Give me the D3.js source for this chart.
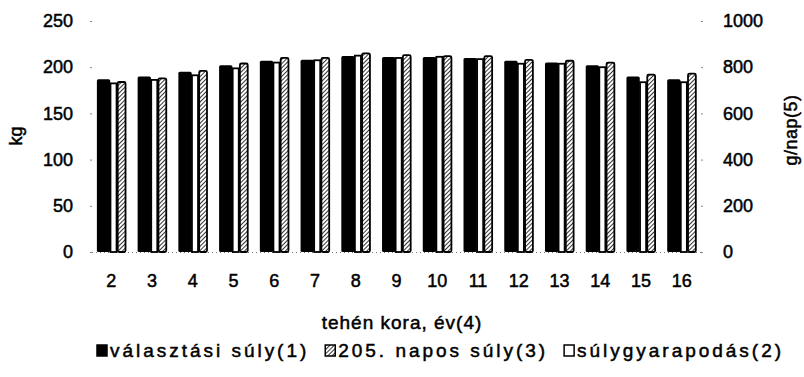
<!DOCTYPE html>
<html>
<head>
<meta charset="utf-8">
<script src="https://cdn.jsdelivr.net/npm/d3@7"></script>
<style>
  body { margin: 0; background: #fff; }
  svg text { font-family: "Liberation Sans", Arial, sans-serif; fill: #000; stroke: #000; stroke-width: 0.5px; }
</style>
</head>
<body>
<svg id="chart" width="804" height="377"></svg>
<script>
// tehén kora (év)
const ages = ["2", "3", "4", "5", "6", "7", "8", "9", "10", "11", "12", "13", "14", "15", "16"];
// választási súly, kg (left axis)
const weaningWeight = [187, 190, 195, 202, 207, 208, 212, 211, 211, 210, 207, 205, 202, 190, 187];
// 205. napos súly, kg (left axis)
const weight205 = [184, 188, 196, 204, 210, 210, 215, 213, 212, 212, 208, 207, 205, 192, 193];
// súlygyarapodás, g/nap (right axis)
const dailyGain = [730, 745, 765, 795, 820, 830, 850, 840, 845, 835, 815, 815, 800, 735, 735];

const leftTicks = [0, 50, 100, 150, 200, 250];
const rightTicks = [0, 200, 400, 600, 800, 1000];

const svg = d3.select("#chart");
const plot = { left: 92, right: 701, top: 21, bottom: 252 };
const fontSize = 18;
const titleSize = 19;

const defs = svg.append("defs");
const pat = defs.append("pattern")
  .attr("id", "hatch")
  .attr("patternUnits", "userSpaceOnUse")
  .attr("width", 3)
  .attr("height", 3)
  .attr("patternTransform", "rotate(45)");
pat.append("rect").attr("width", 3).attr("height", 3).attr("fill", "#fff");
pat.append("line")
  .attr("x1", 0).attr("y1", 0).attr("x2", 0).attr("y2", 3)
  .attr("stroke", "#000").attr("stroke-width", 1.6);

const x = d3.scaleBand()
  .domain(ages)
  .range([plot.left, plot.right])
  .paddingInner(0.29)
  .paddingOuter(0.12);

const yLeft = d3.scaleLinear().domain([0, 250]).range([plot.bottom, plot.top]);
const yRight = d3.scaleLinear().domain([0, 1000]).range([plot.bottom, plot.top]);

// sub-positions inside a group: black, white, hatched
const sub = d3.scaleLinear().domain([0, 1]).range([0, x.bandwidth()]);

// dotted baseline
svg.append("line")
  .attr("x1", plot.left).attr("x2", plot.right)
  .attr("y1", plot.bottom + 0.5).attr("y2", plot.bottom + 0.5)
  .attr("stroke", "#777").attr("stroke-width", 1)
  .attr("stroke-dasharray", "1,3");

const groups = svg.append("g").selectAll("g")
  .data(ages)
  .enter()
  .append("g")
  .attr("transform", (d) => `translate(${x(d)},0)`);

groups.append("rect")
  .attr("x", sub(0))
  .attr("width", sub(0.46) - sub(0))
  .attr("y", (d, i) => yLeft(weaningWeight[i]))
  .attr("height", (d, i) => plot.bottom - yLeft(weaningWeight[i]))
  .attr("rx", 1.5)
  .attr("fill", "#000");

groups.append("rect")
  .attr("x", sub(0.47))
  .attr("width", sub(0.68) - sub(0.47))
  .attr("y", (d, i) => yRight(dailyGain[i]))
  .attr("height", (d, i) => plot.bottom - yRight(dailyGain[i]))
  .attr("fill", "#fff")
  .attr("stroke", "#000")
  .attr("stroke-width", 1.8);

groups.append("rect")
  .attr("x", sub(0.72))
  .attr("width", sub(0.99) - sub(0.72))
  .attr("y", (d, i) => yLeft(weight205[i]))
  .attr("height", (d, i) => plot.bottom - yLeft(weight205[i]))
  .attr("rx", 1.5)
  .attr("fill", "url(#hatch)")
  .attr("stroke", "#000")
  .attr("stroke-width", 1.8);

function styleText(sel) {
  sel.selectAll("text")
    .attr("font-size", fontSize)
    .attr("font-family", "Liberation Sans, Arial, sans-serif");
}

// left axis
const la = svg.append("g").attr("transform", `translate(${plot.left},0)`)
  .call(d3.axisLeft(yLeft).tickValues(leftTicks).tickSize(2).tickPadding(17));
la.select(".domain").remove();
la.selectAll("line").attr("stroke", "#888");
styleText(la);

// right axis
const ra = svg.append("g").attr("transform", `translate(${plot.right},0)`)
  .call(d3.axisRight(yRight).tickValues(rightTicks).tickFormat(d3.format("d")).tickSize(2).tickPadding(20));
ra.select(".domain").remove();
ra.selectAll("line").attr("stroke", "#888");
styleText(ra);

// x axis labels
const xa = svg.append("g").attr("transform", `translate(0,${plot.bottom})`)
  .call(d3.axisBottom(x).tickSize(0).tickPadding(22));
xa.select(".domain").remove();
styleText(xa);

// axis titles
svg.append("text")
  .attr("transform", "translate(22,136) rotate(-90)")
  .attr("text-anchor", "middle")
  .attr("font-size", fontSize)
  .text("kg");

svg.append("text")
  .attr("transform", "translate(797,130) rotate(-90)")
  .attr("text-anchor", "middle")
  .attr("font-size", fontSize)
  .attr("letter-spacing", 0.5)
  .text("g/nap(5)");

svg.append("text")
  .attr("x", 402)
  .attr("y", 329)
  .attr("text-anchor", "middle")
  .attr("font-size", titleSize)
  .attr("letter-spacing", 1)
  .text("tehén kora, év(4)");

// legend, spread across 97..784 with small gaps
const legendItems = [
  { label: "választási súly(1)", fill: "#000" },
  { label: "205. napos súly(3)", fill: "url(#hatch)" },
  { label: "súlygyarapodás(2)", fill: "#fff" },
];
const legStart = 97, legEnd = 784, legGap = 16, boxW = 13;
const leg = svg.append("g").selectAll("g")
  .data(legendItems)
  .enter()
  .append("g");
leg.append("rect")
  .attr("width", 10).attr("height", 11)
  .attr("fill", (d) => d.fill)
  .attr("stroke", "#000").attr("stroke-width", 1.5);
const legText = leg.append("text")
  .attr("x", boxW).attr("y", 12)
  .attr("font-size", titleSize)
  .text((d) => d.label);

let baseW = 0, nChars = 0;
legText.each(function (d) { baseW += this.getComputedTextLength(); nChars += d.label.length; });
const spacing = Math.max(0, (legEnd - legStart - 2 * legGap - 3 * boxW - baseW) / nChars);
legText.attr("letter-spacing", spacing);

let pos = legStart;
leg.attr("transform", function () {
  const t = `translate(${pos},345)`;
  pos += boxW + d3.select(this).select("text").node().getComputedTextLength() + legGap;
  return t;
});
</script>
</body>
</html>
